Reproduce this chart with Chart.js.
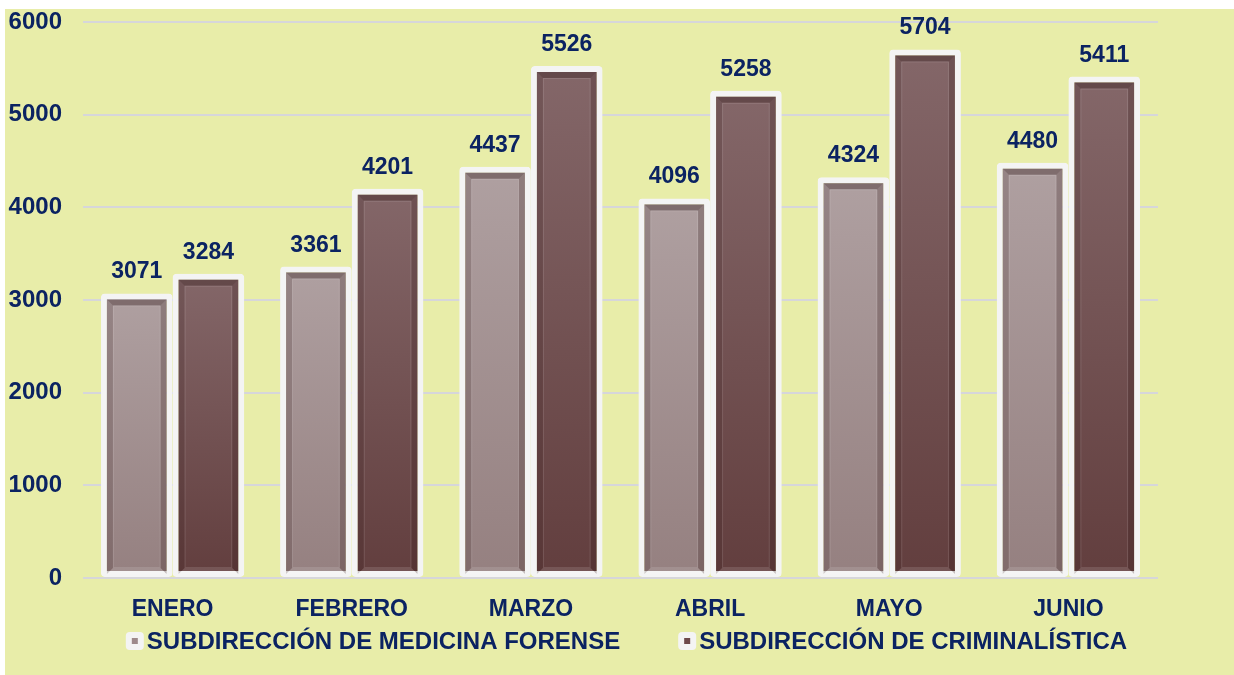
<!DOCTYPE html>
<html>
<head>
<meta charset="utf-8">
<script src="https://cdn.jsdelivr.net/npm/chart.js@4.4.0/dist/chart.umd.min.js"></script>
<style>
  html, body { margin: 0; padding: 0; background: #ffffff; }
  #wrap { position: absolute; left: 5px; top: 9px; width: 1229px; height: 666px; background: #E8EDA9; }
</style>
</head>
<body>
<div id="wrap"><canvas id="barChart" width="1229" height="666"></canvas></div>
<script>
// data
const months = ['ENERO', 'FEBRERO', 'MARZO', 'ABRIL', 'MAYO', 'JUNIO'];
const seriesNames = ['SUBDIRECCIÓN DE MEDICINA FORENSE', 'SUBDIRECCIÓN DE CRIMINALÍSTICA'];
const medicinaForense = [3071, 3361, 4437, 4096, 4324, 4480];
const criminalistica = [3284, 4201, 5526, 5258, 5704, 5411];
const yMax = 6000;
const yStep = 1000;

const navy = '#0B2362';
const fontFamily = '"Liberation Sans", Arial, sans-serif';

// vertical gradient per bar, from bar top to the zero line
function barGradient(topColor, bottomColor) {
  return function (c) {
    const chart = c.chart;
    const y = chart.scales.y;
    if (!chart.chartArea || !y || c.raw === undefined) return topColor;
    const g = chart.ctx.createLinearGradient(0, y.getPixelForValue(c.raw), 0, y.getPixelForValue(0));
    g.addColorStop(0, topColor);
    g.addColorStop(1, bottomColor);
    return g;
  };
}

// bevelled inner frame drawn on top of every bar
const bevelPlugin = {
  id: 'bevel',
  afterDatasetsDraw(chart) {
    const ctx = chart.ctx;
    const b = 6, inset = 6;
    chart.data.datasets.forEach((ds, i) => {
      chart.getDatasetMeta(i).data.forEach(bar => {
        const p = bar.getProps(['x', 'y', 'base', 'width'], true);
        const L = p.x - p.width / 2 + inset, R = p.x + p.width / 2 - inset;
        const T = p.y + inset, B = p.base - 3;
        const poly = (pts, fill) => {
          ctx.beginPath();
          ctx.moveTo(pts[0][0], pts[0][1]);
          for (let k = 1; k < pts.length; k++) ctx.lineTo(pts[k][0], pts[k][1]);
          ctx.closePath();
          ctx.fillStyle = fill;
          ctx.fill();
        };
        ctx.save();
        poly([[L, T], [R, T], [R - b, T + b], [L + b, T + b]], 'rgba(50,25,25,0.38)');
        poly([[L, T], [L + b, T + b], [L + b, B - b], [L, B]], 'rgba(50,25,25,0.2)');
        poly([[R, T], [R, B], [R - b, B - b], [R - b, T + b]], 'rgba(50,25,25,0.26)');
        poly([[L, B], [L + b, B - b], [R - b, B - b], [R, B]], 'rgba(255,255,255,0.12)');
        ctx.strokeStyle = 'rgba(255,255,255,0.12)';
        ctx.lineWidth = 1;
        ctx.strokeRect(L + b + 0.5, T + b + 0.5, R - L - 2 * b - 1, B - T - 2 * b - 1);
        ctx.restore();
      });
    });
  }
};

// value labels above bars
const valueLabels = {
  id: 'valueLabels',
  afterDatasetsDraw(chart) {
    const ctx = chart.ctx;
    ctx.save();
    ctx.font = 'bold 23px ' + fontFamily;
    ctx.fillStyle = navy;
    ctx.textAlign = 'center';
    ctx.textBaseline = 'alphabetic';
    chart.data.datasets.forEach((ds, i) => {
      chart.getDatasetMeta(i).data.forEach((bar, j) => {
        ctx.fillText(String(ds.data[j]), bar.x, bar.y - 15);
      });
    });
    ctx.restore();
  }
};

// legend: small square on a white rounded tile, then the label
const bottomLegend = {
  id: 'bottomLegend',
  afterDraw(chart) {
    const ctx = chart.ctx;
    const tile = 18, gapText = 3, gapItems = 58;
    const cy = 632;
    ctx.save();
    ctx.font = 'bold 24px ' + fontFamily;
    const items = chart.data.datasets.map(ds => ({ text: ds.label, color: ds.legendColor, w: ctx.measureText(ds.label).width }));
    let total = 0;
    items.forEach((it, k) => { total += tile + gapText + it.w + (k ? gapItems : 0); });
    const area = chart.chartArea;
    let x = (area.left + area.right) / 2 + 6 - total / 2;
    items.forEach(it => {
      ctx.fillStyle = '#F4F4F4';
      ctx.beginPath();
      ctx.roundRect(x, cy - tile / 2, tile, tile, 4);
      ctx.fill();
      ctx.fillStyle = it.color;
      ctx.fillRect(x + 6, cy - 3, 6, 6);
      x += tile + gapText;
      ctx.fillStyle = navy;
      ctx.textAlign = 'left';
      ctx.textBaseline = 'middle';
      ctx.fillText(it.text, x, cy + 1);
      x += it.w + gapItems;
    });
    ctx.restore();
  }
};

const ctx = document.getElementById('barChart').getContext('2d');

const barChart = new Chart(ctx, {
  type: 'bar',
  data: {
    labels: months,
    datasets: [
      {
        label: seriesNames[0],
        data: medicinaForense,
        backgroundColor: barGradient('#AFA0A1', '#958080'),
        legendColor: '#9E8A8B',
        borderColor: '#F4F4F4',
        borderWidth: 6,
        borderRadius: 4,
        borderSkipped: false
      },
      {
        label: seriesNames[1],
        data: criminalistica,
        backgroundColor: barGradient('#846769', '#623E3E'),
        legendColor: '#6E4A4B',
        borderColor: '#F4F4F4',
        borderWidth: 6,
        borderRadius: 4,
        borderSkipped: false
      }
    ]
  },
  options: {
    responsive: false,
    devicePixelRatio: 1,
    animation: false,
    layout: { padding: { left: 0, right: 76, top: 13, bottom: 55 } },
    datasets: { bar: { categoryPercentage: 0.8, barPercentage: 1.0 } },
    plugins: {
      legend: { display: false },
      tooltip: { enabled: false }
    },
    scales: {
      x: {
        grid: { display: false },
        border: { display: false },
        ticks: {
          color: navy,
          padding: 10,
          font: { family: fontFamily, size: 23, weight: 'bold' }
        },
        afterFit: function (s) { s.height = 42; s.paddingLeft = 0; s.paddingRight = 0; }
      },
      y: {
        min: 0,
        max: yMax,
        grid: { color: '#D6D6DA', lineWidth: 2, drawTicks: false },
        border: { display: false },
        ticks: {
          stepSize: yStep,
          color: navy,
          padding: 21,
          font: { family: fontFamily, size: 24, weight: 'bold' },
          callback: function (value) { return String(value); }
        },
        afterFit: function (s) { s.width = 78; s.paddingTop = 0; s.paddingBottom = 0; }
      }
    }
  },
  plugins: [bevelPlugin, valueLabels, bottomLegend]
});
</script>
</body>
</html>
